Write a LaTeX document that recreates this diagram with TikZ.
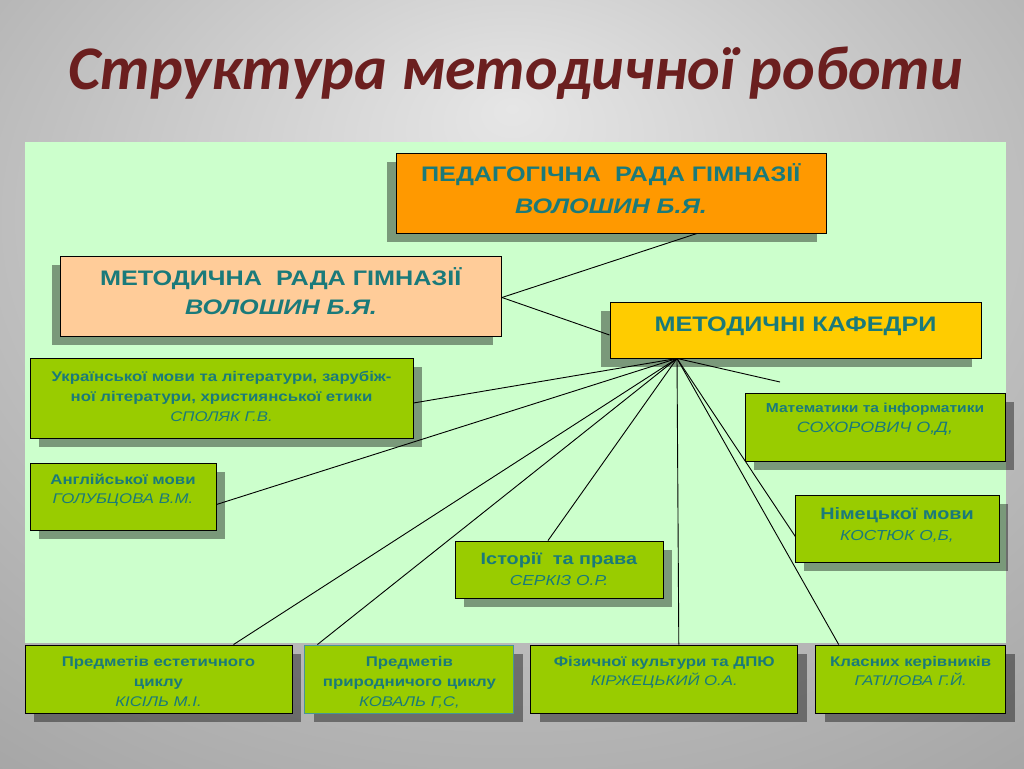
\documentclass[tikz,border=0pt]{standalone}
\usepackage{fontspec}
\setmainfont[FakeStretch=1.2]{Liberation Sans}
\newfontfamily\titlefont{Carlito}
\usetikzlibrary{positioning, shadows}

\definecolor{panelgreen}{HTML}{CCFFCC}
\definecolor{boxgreen}{HTML}{99CC00}
\definecolor{boxorange}{HTML}{FF9900}
\definecolor{boxpeach}{HTML}{FFCC99}
\definecolor{boxyellow}{HTML}{FFCC00}
\definecolor{tealtext}{HTML}{1A7A7A}
\definecolor{titlered}{HTML}{6B1F1F}
\definecolor{bglight}{HTML}{E6E6E6}
\definecolor{bgmid}{HTML}{C2C2C2}
\definecolor{bgdark}{HTML}{858585}
\pgfdeclareradialshading{slidebg}{\pgfpoint{0bp}{18bp}}{color(0bp)=(bglight); color(22bp)=(bgmid); color(62bp)=(bgdark)}
\pgfdeclarelayer{back}
\pgfsetlayers{back,main}

\tikzset{
	x=1pt, y=-1pt, % one unit is one pixel of the slide, y runs down
	link/.style={draw=black, line width=0.9pt}, % the connecting lines
	boxsize/.style 2 args={minimum width=#1, minimum height=#2, inner sep=0pt}, % width and height of a box
	council/.style={draw=black, line width=0.9pt, drop shadow={shadow xshift=-9pt, shadow yshift=-9pt, fill=black, opacity=0.4}}, % the three top boxes
	dept/.style={draw=black, line width=0.9pt, fill=boxgreen, drop shadow={shadow xshift=9pt, shadow yshift=-9pt, fill=black, opacity=0.4}}, % the green boxes of the departments
	intext/.style={anchor=north, align=center, text=tealtext, inner sep=0pt, yshift=-#1}, % text at the top of a box
	textsize/.style 2 args={font=\fontsize{#1}{#2}\selectfont}, % font size and line skip
}

\begin{document}
\begin{tikzpicture}
	\useasboundingbox (0,0) rectangle (1024,768);
	\begin{pgfonlayer}{back}
		\shade[shading=slidebg] (0,0) rectangle (1024,768);
		\fill[panelgreen] (25,142) rectangle (1006,643);
	\end{pgfonlayer}

	\node[text=titlered, font=\titlefont\bfseries\itshape\fontsize{62}{70}\selectfont](title) at (516,73){Структура методичної роботи};

	% top of the structure
	\node[council, fill=boxorange, boxsize={430}{80}](ped) at (611,193){};
	\node[intext=11pt, textsize={21}{32}] at (ped.north){\textbf{ПЕДАГОГІЧНА~~РАДА ГІМНАЗІЇ}\\\textbf{\textit{ВОЛОШИН Б.Я.}}};
	\node[council, fill=boxpeach, boxsize={441}{80}](mrada) at (281,296){};
	\node[intext=12pt, textsize={21}{29}] at (mrada.north){\textbf{МЕТОДИЧНА~~РАДА ГІМНАЗІЇ}\\\textbf{\textit{ВОЛОШИН Б.Я.}}};
	\node[council, fill=boxyellow, boxsize={371}{56}](kaf) at (795.5,330){};
	\node[intext=15pt, textsize={21}{28}] at (kaf.north){\textbf{МЕТОДИЧНІ КАФЕДРИ}};

	% departments
	\node[dept, boxsize={383}{80}](ukr) at (221.5,398){};
	\node[intext=13pt, textsize={14}{20}] at (ukr.north){\textbf{Української мови та літератури, зарубіж-}\\\textbf{ної літератури, християнської етики}\\\textit{СПОЛЯК Г.В.}};
	\node[dept, boxsize={186}{67}](eng) at (123,496.5){};
	\node[intext=11pt, textsize={14}{19}] at (eng.north){\textbf{Англійської мови}\\\textit{ГОЛУБЦОВА В.М.}};
	\node[dept, boxsize={260}{68}](math) at (875,427){};
	\node[intext=10pt, textsize={13}{20}] at (math.north){\textbf{Математики та інформатики}\\\textit{\fontsize{15}{20}\selectfont СОХОРОВИЧ О,Д,}};
	\node[dept, boxsize={204}{67}](nim) at (897,528.5){};
	\node[intext=13pt, textsize={16.5}{21}] at (nim.north){\textbf{Німецької мови}\\\textit{\fontsize{14.5}{21}\selectfont КОСТЮК О,Б,}};
	\node[dept, boxsize={208}{57}](ist) at (559,569.5){};
	\node[intext=12pt, textsize={16.5}{21}] at (ist.north){\textbf{Історії~~та права}\\\textit{\fontsize{14.5}{21}\selectfont СЕРКІЗ О.Р.}};

	% bottom row
	\node[dept, boxsize={267}{68}](est) at (158.5,679){};
	\node[dept, draw=tealtext!80, boxsize={209}{68}, right=12pt of est](pryr){};
	\node[dept, boxsize={267}{68}, right=16pt of pryr](fiz){};
	\node[dept, boxsize={190}{68}, right=17pt of fiz](klas){};
	\node[intext=12pt, textsize={14}{20}] at (est.north){\textbf{Предметів естетичного}\\\textbf{циклу}\\\textit{КІСІЛЬ М.І.}};
	\node[intext=12pt, textsize={14}{20}] at (pryr.north){\textbf{Предметів}\\\textbf{природничого циклу}\\\textit{КОВАЛЬ Г,С,}};
	\node[intext=12pt, textsize={14}{19}] at (fiz.north){\textbf{Фізичної культури та ДПЮ}\\\textit{КІРЖЕЦЬКИЙ О.А.}};
	\node[intext=12pt, textsize={14}{19}] at (klas.north){\textbf{Класних керівників}\\\textit{ГАТІЛОВА Г.Й.}};

	% connecting lines
	\coordinate (hub) at ([xshift=-118.5pt]kaf.south);
	\coordinate (mathend) at (780,382);
	\coordinate (nimend) at ([xshift=18pt]nim.south west);
	\draw[link] ([xshift=86pt]ped.south) -- ([yshift=-1.5pt]mrada.east);
	\draw[link] ([yshift=-1.5pt]mrada.east) -- ([yshift=-5pt]kaf.west);
	\foreach \tgt/\dy in {ukr/-5, eng/-8}
	{
		\draw[link] (hub) -- ([yshift=\dy pt]\tgt.east);
	}
	\foreach \tgt/\dx in {est/75, pryr/-92, ist/-11, fiz/14.5, klas/-72}
	{
		\draw[link] (hub) -- ([xshift=\dx pt]\tgt.north);
	}
	\draw[link] (hub) -- (mathend);
	\begin{pgfonlayer}{back}
		\draw[link] (hub) -- (nimend);
	\end{pgfonlayer}
\end{tikzpicture}
\end{document}
